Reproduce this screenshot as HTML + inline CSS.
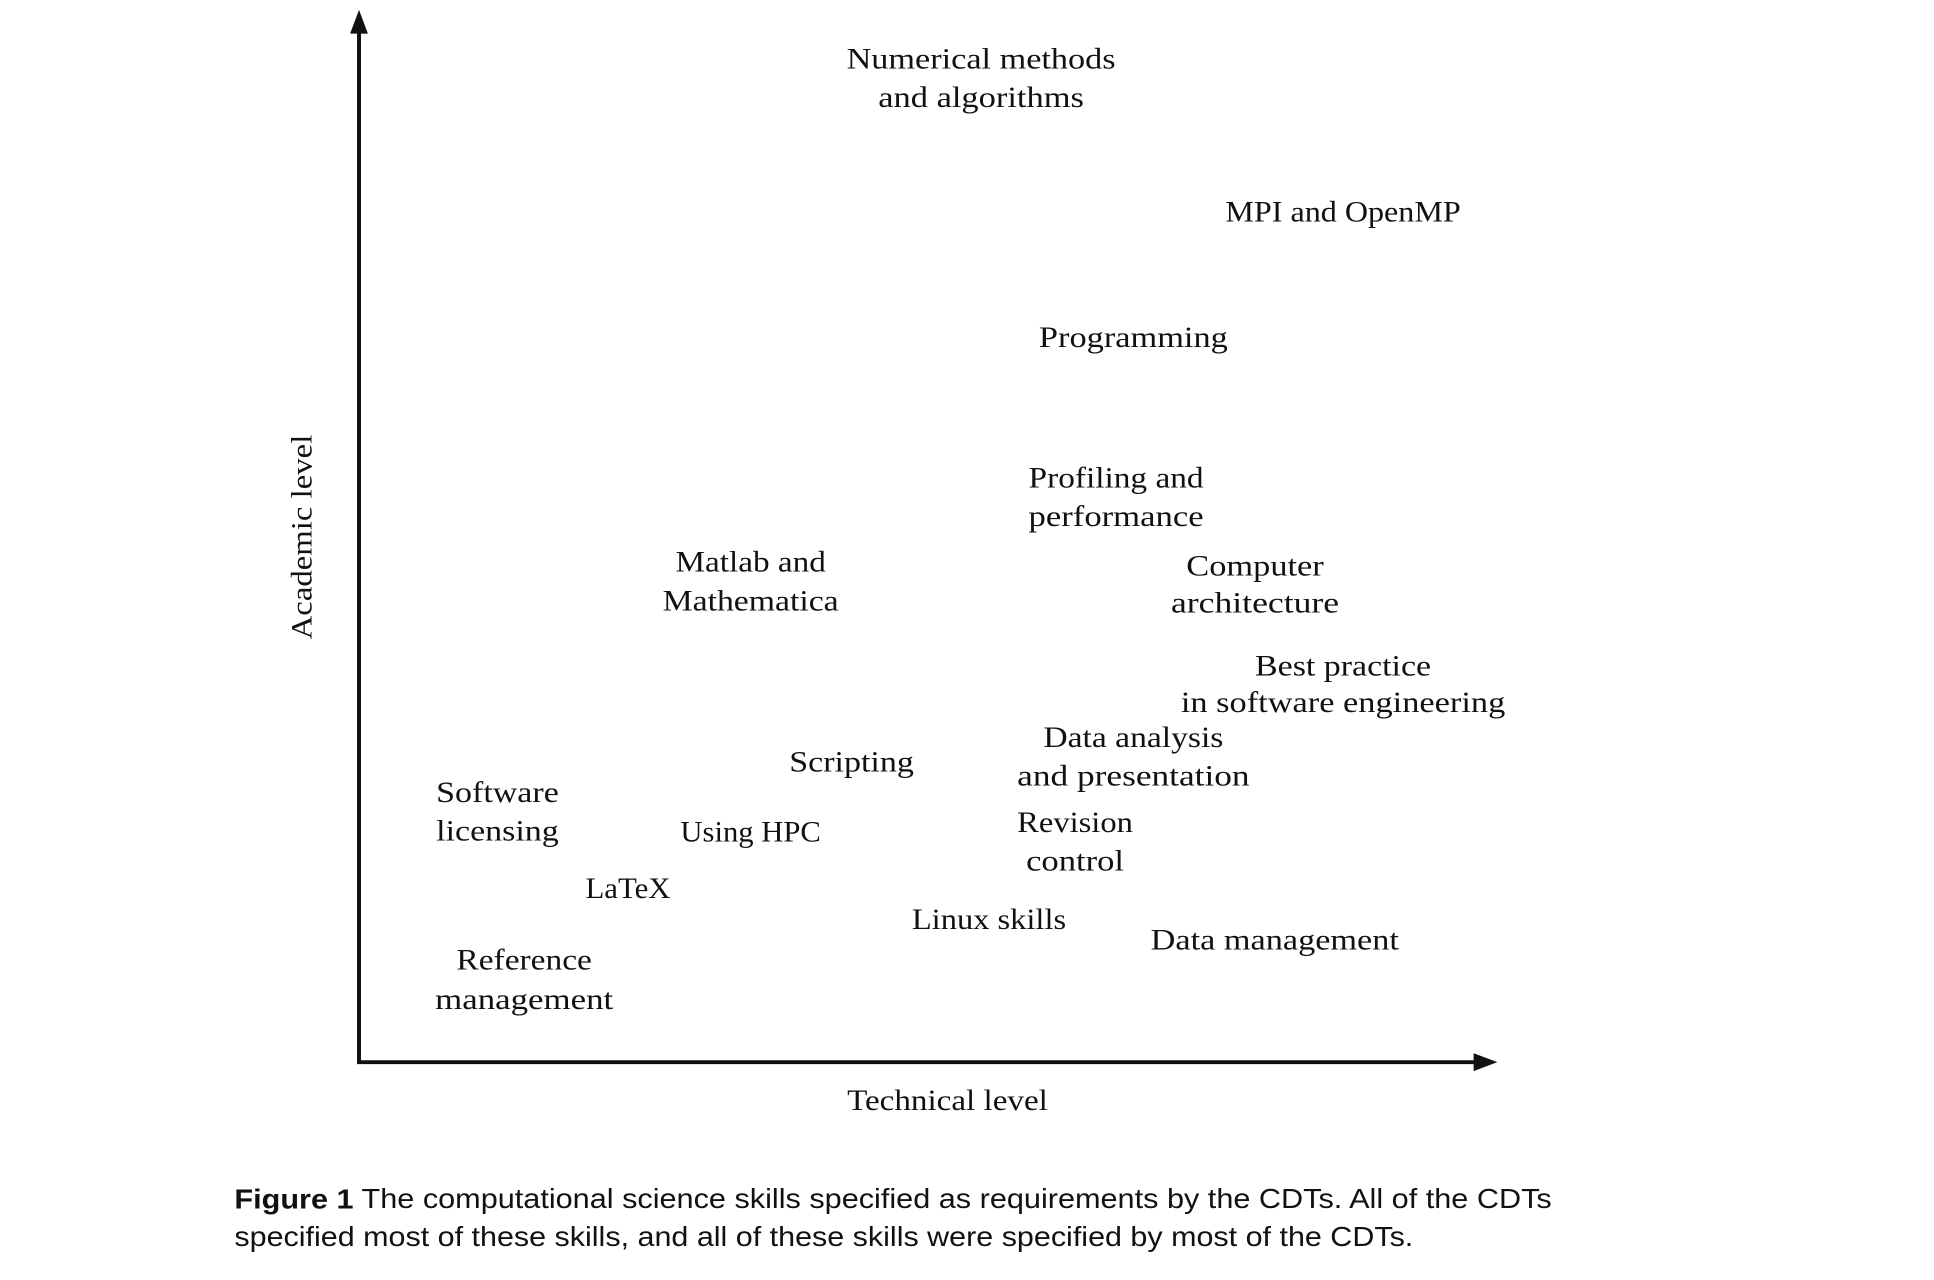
<!DOCTYPE html>
<html><head><meta charset="utf-8"><style>
html,body{margin:0;padding:0;background:#fff;}
svg{display:block;}
text{font-family:"Liberation Serif",serif;font-size:30px;fill:#111;dominant-baseline:central;}
.c{text-anchor:middle;}
.cap{font-family:"Liberation Sans",sans-serif;font-size:28px;}
</style></head><body>
<svg width="1934" height="1280" viewBox="0 0 1934 1280" xmlns="http://www.w3.org/2000/svg">
<g transform="scale(0.989)">
<line x1="363" y1="1074" x2="363" y2="28" stroke="#111" stroke-width="4"/>
<polygon points="363,10 354,34 372,34" fill="#111"/>
<line x1="361" y1="1074" x2="1496" y2="1074" stroke="#111" stroke-width="4"/>
<polygon points="1514,1074 1490,1065 1490,1083" fill="#111"/>

<text class="c" x="992" y="60" textLength="272" lengthAdjust="spacingAndGlyphs">Numerical methods</text>
<text class="c" x="992" y="99" textLength="208" lengthAdjust="spacingAndGlyphs">and algorithms</text>
<text class="c" x="1358" y="215" textLength="238" lengthAdjust="spacingAndGlyphs">MPI and OpenMP</text>
<text class="c" x="1146" y="342" textLength="191" lengthAdjust="spacingAndGlyphs">Programming</text>
<text x="1040" y="484" textLength="177" lengthAdjust="spacingAndGlyphs">Profiling and</text>
<text x="1040" y="523" textLength="177" lengthAdjust="spacingAndGlyphs">performance</text>
<text class="c" x="1269" y="573" textLength="139" lengthAdjust="spacingAndGlyphs">Computer</text>
<text class="c" x="1269" y="610" textLength="170" lengthAdjust="spacingAndGlyphs">architecture</text>
<text class="c" x="759" y="569" textLength="152" lengthAdjust="spacingAndGlyphs">Matlab and</text>
<text class="c" x="759" y="608" textLength="178" lengthAdjust="spacingAndGlyphs">Mathematica</text>
<text class="c" x="1358" y="674" textLength="178" lengthAdjust="spacingAndGlyphs">Best practice</text>
<text class="c" x="1358" y="711" textLength="328" lengthAdjust="spacingAndGlyphs">in software engineering</text>
<text class="c" x="1146" y="746" textLength="182" lengthAdjust="spacingAndGlyphs">Data analysis</text>
<text class="c" x="1146" y="785" textLength="235" lengthAdjust="spacingAndGlyphs">and presentation</text>
<text class="c" x="861" y="771" textLength="126" lengthAdjust="spacingAndGlyphs">Scripting</text>
<text class="c" x="503" y="802" textLength="124" lengthAdjust="spacingAndGlyphs">Software</text>
<text class="c" x="503" y="841" textLength="124" lengthAdjust="spacingAndGlyphs">licensing</text>
<text class="c" x="759" y="842" textLength="142" lengthAdjust="spacingAndGlyphs">Using HPC</text>
<text class="c" x="1087" y="832" textLength="117" lengthAdjust="spacingAndGlyphs">Revision</text>
<text class="c" x="1087" y="871" textLength="99" lengthAdjust="spacingAndGlyphs">control</text>
<text class="c" x="635" y="899" textLength="86" lengthAdjust="spacingAndGlyphs">LaTeX</text>
<text class="c" x="1000" y="930" textLength="156" lengthAdjust="spacingAndGlyphs">Linux skills</text>
<text class="c" x="1289" y="951" textLength="251" lengthAdjust="spacingAndGlyphs">Data management</text>
<text class="c" x="530" y="971" textLength="137" lengthAdjust="spacingAndGlyphs">Reference</text>
<text class="c" x="530" y="1011" textLength="180" lengthAdjust="spacingAndGlyphs">management</text>

<text class="c" x="0" y="0" transform="translate(306,543) rotate(-90)" textLength="207" lengthAdjust="spacingAndGlyphs">Academic level</text>
<text class="c" x="958" y="1113" textLength="203" lengthAdjust="spacingAndGlyphs">Technical level</text>

<text class="cap" x="237" y="1212" textLength="1332" lengthAdjust="spacingAndGlyphs"><tspan font-weight="bold">Figure 1</tspan> The computational science skills specified as requirements by the CDTs. All of the CDTs</text>
<text class="cap" x="237" y="1250" textLength="1192" lengthAdjust="spacingAndGlyphs">specified most of these skills, and all of these skills were specified by most of the CDTs.</text>
</g>
</svg>
</body></html>
